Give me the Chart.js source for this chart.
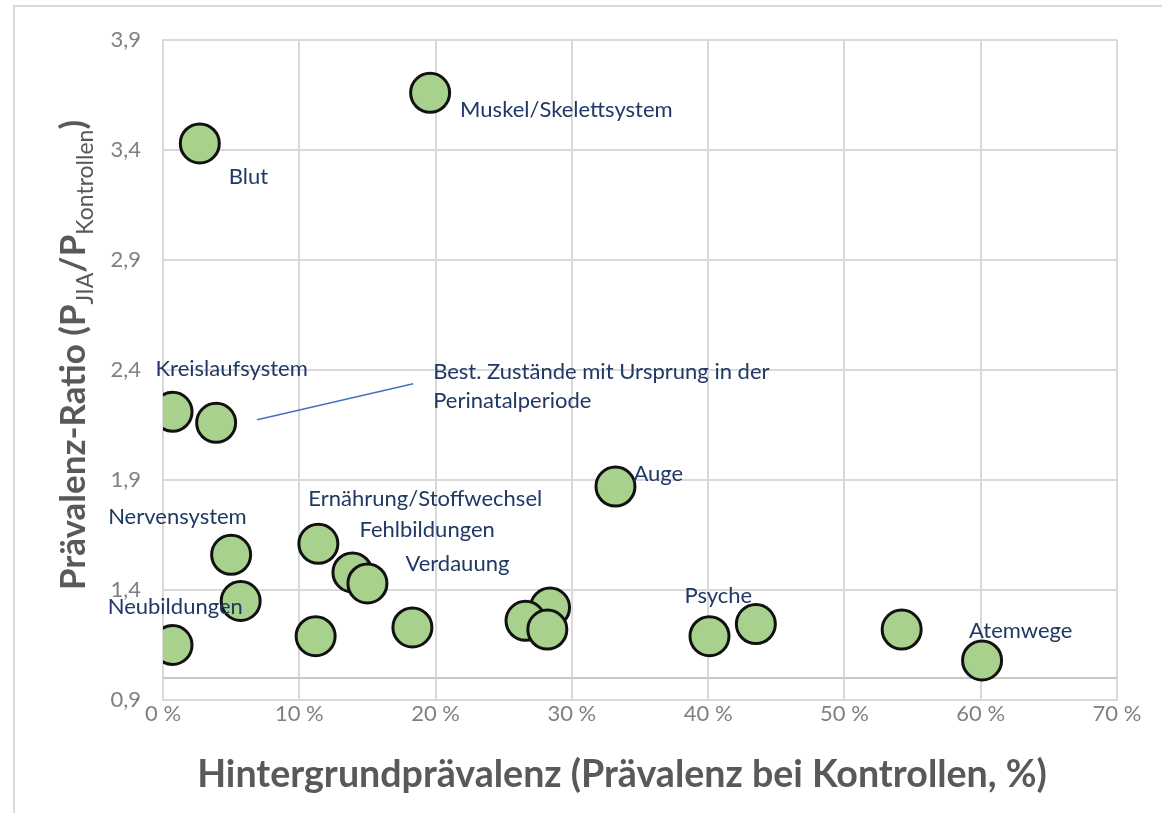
<!DOCTYPE html>
<html>
<head>
<meta charset="utf-8">
<script src="https://cdn.jsdelivr.net/npm/chart.js@4.4.0/dist/chart.umd.min.js"></script>
<style>
    html, body { margin: 0; padding: 0; background: #fff; }
    #wrap { position: relative; width: 1162px; height: 813px; overflow: hidden; }
    #frame { position: absolute; left: 13px; top: 5px; right: -5px; bottom: -5px;
             border-top: 2px solid #d9d9d9; border-left: 2px solid #d9d9d9; }
    canvas { position: absolute; left: 0; top: 0; }
</style>
</head>
<body>
<div id="wrap">
    <div id="frame"></div>
    <canvas id="chart" width="1162" height="813"></canvas>
</div>
<script>
// background prevalence in controls (%) and prevalence ratio per ICD chapter
const prevalence = [2.7, 19.6, 0.7, 3.9, 33.2, 5.0, 11.4, 13.9, 15.0, 5.7,
                    0.7, 11.2, 18.3, 28.4, 26.6, 28.2, 40.1, 43.5, 54.2, 60.1];
const ratio      = [3.43, 3.66, 2.21, 2.16, 1.87, 1.56, 1.61, 1.48, 1.43, 1.35,
                    1.15, 1.19, 1.23, 1.32, 1.26, 1.22, 1.19, 1.245, 1.22, 1.08];
const names = ['Blut', 'Muskel/Skelettsystem', 'Kreislaufsystem',
               'Best. Zustände mit Ursprung in der\nPerinatalperiode', 'Auge',
               'Nervensystem', 'Ernährung/Stoffwechsel', 'Fehlbildungen', 'Verdauung',
               'Neubildungen', '', '', '', '', '', '', 'Psyche', '', '', 'Atemwege'];

const xTicks = [0, 10, 20, 30, 40, 50, 60, 70];
const yTicks = [0.9, 1.4, 1.9, 2.4, 2.9, 3.4, 3.9];

// reference line at ratio 1
const refX = [0, 70];
const refY = [1, 1];

const xTitle = 'Hintergrundprävalenz (Prävalenz bei Kontrollen, %)';
const yTitleParts = [
    ['Prävalenz-Ratio (P', false],
    ['JIA', true],
    ['/P', false],
    ['Kontrollen', true],
    [')', false]
];

// where each label sits relative to its point (px), text is left aligned
const labelOffsets = {
    'Blut': [29, 34],
    'Muskel/Skelettsystem': [30, 17],
    'Kreislaufsystem': [-17, -43],
    'Best. Zustände mit Ursprung in der\nPerinatalperiode': [217, -51],
    'Auge': [18, -13],
    'Nervensystem': [-123, -38],
    'Ernährung/Stoffwechsel': [-10, -45],
    'Fehlbildungen': [7, -42],
    'Verdauung': [38, -19],
    'Neubildungen': [-133, 6],
    'Psyche': [-25, -40],
    'Atemwege': [-13, -29]
};
const leader = { name: 'Best. Zustände mit Ursprung in der\nPerinatalperiode', from: [41, -3], to: [197, -39] };

const labelPlugin = {
    id: 'pointLabels',
    afterDatasetsDraw(chart) {
        const ctx = chart.ctx;
        const meta = chart.getDatasetMeta(1);
        ctx.save();
        ctx.font = '22px Lato';
        ctx.fillStyle = '#203864';
        ctx.textAlign = 'left';
        ctx.textBaseline = 'middle';
        names.forEach((name, i) => {
            if (!name) return;
            const pt = meta.data[i];
            const off = labelOffsets[name];
            name.split('\n').forEach((line, k) => {
                ctx.fillText(line, pt.x + off[0], pt.y + off[1] + k * 29);
            });
            if (name === leader.name) {
                ctx.strokeStyle = '#4472c4';
                ctx.lineWidth = 1.5;
                ctx.beginPath();
                ctx.moveTo(pt.x + leader.from[0], pt.y + leader.from[1]);
                ctx.lineTo(pt.x + leader.to[0], pt.y + leader.to[1]);
                ctx.stroke();
            }
        });
        ctx.restore();
    },
    afterDraw(chart) {
        const ctx = chart.ctx;
        ctx.save();
        ctx.fillStyle = '#595959';
        // x axis title, sized to span the width it has in the original
        ctx.font = 'bold 30px Lato';
        let w = ctx.measureText(xTitle).width;
        const xs = 30 * 850 / w;
        ctx.font = 'bold ' + xs + 'px Lato';
        ctx.textAlign = 'center';
        ctx.textBaseline = 'middle';
        ctx.fillText(xTitle, 622, 775);

        // y axis title with subscripts
        const big = 35, small = 23;
        let total = 0;
        yTitleParts.forEach(([t, sub]) => {
            ctx.font = (sub ? '' : 'bold ') + (sub ? small : big) + 'px Lato';
            total += ctx.measureText(t).width;
        });
        ctx.translate(85, 355);
        ctx.rotate(-Math.PI / 2);
        ctx.textAlign = 'left';
        ctx.textBaseline = 'alphabetic';
        let pos = -total / 2;
        yTitleParts.forEach(([t, sub]) => {
            ctx.font = (sub ? '' : 'bold ') + (sub ? small : big) + 'px Lato';
            ctx.fillText(t, pos, sub ? 8 : 0);
            pos += ctx.measureText(t).width;
        });
        ctx.restore();
    }
};

const ctx = document.getElementById('chart').getContext('2d');
new Chart(ctx, {
    type: 'scatter',
    data: {
        datasets: [{
            type: 'line',
            data: refX.map((x, i) => ({ x: x, y: refY[i] })),
            borderColor: '#c8c8c8',
            borderWidth: 2,
            pointRadius: 0,
            order: 2
        }, {
            data: prevalence.map((x, i) => ({ x: x, y: ratio[i] })),
            backgroundColor: '#a9d18e',
            borderColor: '#111',
            borderWidth: 3,
            pointRadius: 19.5,
            order: 1
        }]
    },
    options: {
        responsive: false,
        animation: false,
        events: [],
        layout: { padding: { left: 0, top: 40, right: 45, bottom: 0 } },
        plugins: {
            legend: { display: false },
            tooltip: { enabled: false }
        },
        scales: {
            x: {
                type: 'linear',
                min: 0,
                max: 70,
                afterBuildTicks: scale => { scale.ticks = xTicks.map(v => ({ value: v })); },
                afterFit: scale => { scale.height = 113; },
                ticks: {
                    callback: v => v + ' %',
                    color: '#808080',
                    font: { family: 'Lato', size: 22 },
                    padding: 1,
                    maxRotation: 0
                },
                grid: { color: '#d9d9d9', lineWidth: 2, drawTicks: false },
                border: { color: '#d9d9d9', width: 2 }
            },
            y: {
                min: 0.9,
                max: 3.9,
                afterBuildTicks: scale => { scale.ticks = yTicks.map(v => ({ value: v })); },
                afterFit: scale => { scale.width = 163; },
                ticks: {
                    callback: v => v.toFixed(1).replace('.', ','),
                    color: '#808080',
                    font: { family: 'Lato', size: 22 },
                    padding: 22
                },
                grid: { color: '#d9d9d9', lineWidth: 2, drawTicks: false },
                border: { color: '#d9d9d9', width: 2 }
            }
        }
    },
    plugins: [labelPlugin]
});
</script>
</body>
</html>
